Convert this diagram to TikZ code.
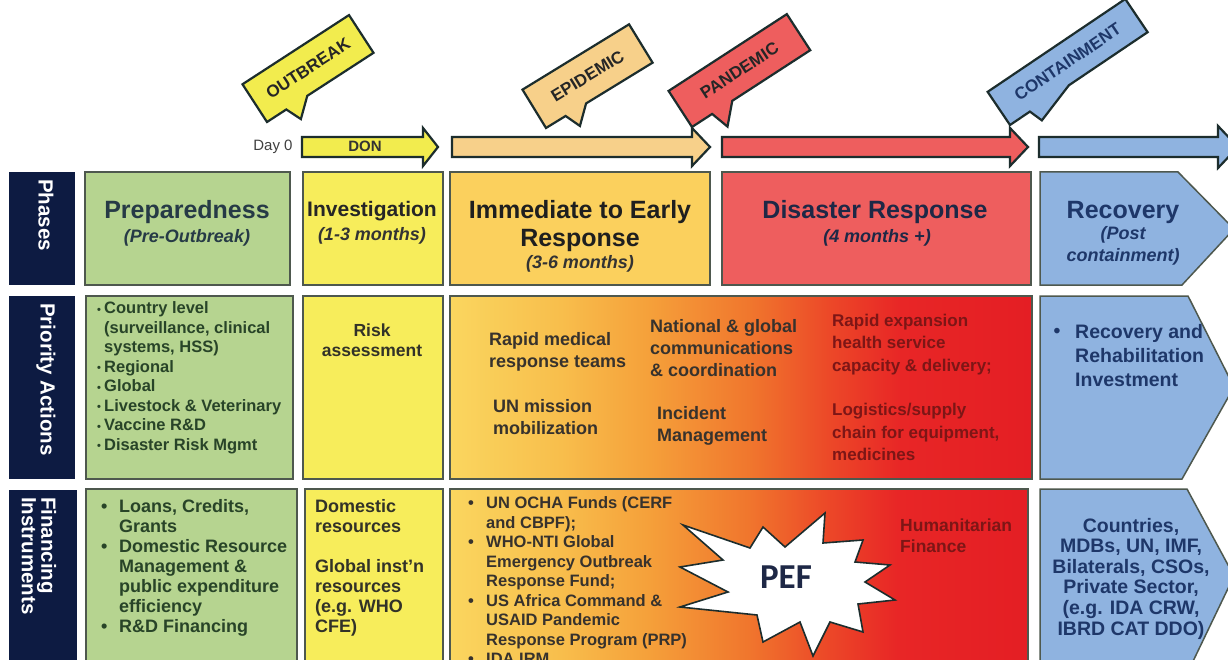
\documentclass[tikz,border=0pt]{standalone}
\usepackage{fontspec}
\setmainfont{Liberation Sans}
\newfontfamily\peffont{Carlito}
\definecolor{navy}{RGB}{13,27,66}
\definecolor{cgreen}{RGB}{182,212,144}
\definecolor{cyellow}{RGB}{247,237,91}
\definecolor{corange}{RGB}{251,208,93}
\definecolor{cred}{RGB}{238,94,94}
\definecolor{cblue}{RGB}{143,179,224}
\definecolor{cpeach}{RGB}{247,208,138}
\definecolor{ctagy}{RGB}{242,236,78}
\definecolor{boxline}{RGB}{78,88,78}
\definecolor{arrline}{RGB}{28,45,45}
\definecolor{tprepc}{RGB}{38,58,70}
\definecolor{tgreen}{RGB}{40,68,40}
\definecolor{tyel}{RGB}{50,50,40}
\definecolor{torange}{RGB}{55,50,45}
\definecolor{tred}{RGB}{125,22,22}
\definecolor{tblue}{RGB}{30,55,105}
\definecolor{tdis}{RGB}{30,40,70}
\definecolor{ga}{RGB}{250,214,95}
\definecolor{gb}{RGB}{248,190,76}
\definecolor{gc}{RGB}{245,160,58}
\definecolor{gd}{RGB}{240,118,45}
\definecolor{ge}{RGB}{236,72,40}
\definecolor{gf}{RGB}{232,38,38}
\definecolor{gg}{RGB}{228,30,36}
\pgfdeclarehorizontalshading{prioshade}{100bp}{color(0bp)=(ga); color(25bp)=(ga); color(34.5bp)=(gb); color(42.2bp)=(gc); color(50.8bp)=(gd); color(57.6bp)=(ge); color(63.7bp)=(gf); color(75bp)=(gg); color(100bp)=(gg)}
\newcommand\mybulA{\makebox[7pt][l]{\raisebox{0.5pt}{\fontsize{11}{11}\selectfont •}}}
\newcommand\mybulB{\makebox[18pt][l]{•}}
\tikzset{
  box/.style={draw=boxline, line width=1.5pt},
  arr/.style={draw=arrline, line width=2.2pt, line join=miter},
  tagline/.style={draw=arrline, line width=2.2pt, line join=miter},
  navytext/.style={text=white, font=\bfseries\fontsize{20.5}{18}\selectfont, rotate=-90, inner sep=0pt},
  ttl/.style={font=\bfseries\fontsize{25}{28}\selectfont, inner sep=0pt, align=center},
  sub/.style={font=\bfseries\itshape\fontsize{18}{22}\selectfont, inner sep=0pt, align=center},
  tagtext/.style={font=\bfseries\fontsize{17}{17}\selectfont, inner sep=0pt},
  body/.style 2 args={font=\bfseries\fontsize{#1}{#2}\selectfont, inner sep=0pt},
}
\begin{document}
\begin{tikzpicture}[x=1pt,y=-1pt]
\useasboundingbox (0,0) rectangle (1228,660);
\clip (0,0) rectangle (1228,660);
\fill[white] (0,0) rectangle (1228,660);

% navy row labels
\fill[navy] (9,172) rectangle (75,285);
\fill[navy] (9,296) rectangle (75,479);
\fill[navy] (9,490) rectangle (77,680);
\node[navytext, anchor=west] (lphases) at (46,179) {Phases};
\node[navytext, anchor=west] (lprio) at (46,303) {Priority Actions};
\node[navytext, anchor=west, align=left] (lfin) at (39,497) {Financing\\Instruments};

% phases row
\path[box, fill=cgreen] (85,172) rectangle (290,285);
\path[box, fill=cyellow] (303,172) rectangle (443,285);
\path[box, fill=corange] (450,172) rectangle (710,285);
\path[box, fill=cred] (722,172) rectangle (1031,285);
\path[box, fill=cblue] (1040,172) -- (1178,172) -- (1234,229) -- (1182,285) -- (1040,285) -- cycle;

\node[ttl, text=tprepc] (tprep) at (187,212) {Preparedness};
\node[sub, text=tprepc] (tprep2) at (187,238) {(Pre-Outbreak)};
\node[ttl, text=black!85, font=\bfseries\fontsize{21}{24}\selectfont] (tinv) at (372,211) {Investigation};
\node[sub, text=black!80] (tinv2) at (372,236) {(1-3 months)};
\node[ttl, text=black!88] (timm) at (580,226) {Immediate to Early\\Response};
\node[sub, text=black!80] (timm2) at (580,264) {(3-6 months)};
\node[ttl, text=tdis] (tdis) at (875,212) {Disaster Response};
\node[sub, text=tdis] (tdis2) at (877,238) {(4 months +)};
\node[ttl, text=tblue] (trec) at (1123,212) {Recovery};
\node[sub, text=tblue] (trec2) at (1123,246) {(Post\\containment)};

% priority row
\path[box, fill=cgreen] (86,296) rectangle (293,479);
\path[box, fill=cyellow] (303,296) rectangle (443,479);
\path[box, shading=prioshade] (450,296) rectangle (1032,479);
\path[box, fill=cblue] (1040,296) -- (1188,296) -- (1234,387) -- (1182,479) -- (1040,479) -- cycle;

\node[body={16.5}{19.5}, text=tgreen, anchor=west, align=left] (pgreen) at (97,378)
 {\mybulA Country level\\\hspace*{7pt}(surveillance, clinical\\\hspace*{7pt}systems, HSS)\\\mybulA Regional\\\mybulA Global\\\mybulA Livestock \& Veterinary\\\mybulA Vaccine R\&D\\\mybulA Disaster Risk Mgmt};
\node[body={17.5}{20}, text=tyel, align=center] (prisk) at (372,340) {Risk\\assessment};
\node[body={18}{22}, text=torange, anchor=west, align=left] (pr1) at (489,351.5) {Rapid medical\\response teams};
\node[body={18}{22}, text=torange, anchor=west, align=left] (pr2) at (650,348.5) {National \& global\\communications\\\& coordination};
\node[body={18}{22}, text=torange, anchor=west, align=left] (pr3) at (493,417.5) {UN mission\\mobilization};
\node[body={18}{22}, text=torange, anchor=west, align=left] (pr4) at (657,426) {Incident\\Management};
\node[body={17}{22.5}, text=tred, anchor=west, align=left] (pr5) at (832,344.5) {Rapid expansion\\health service\\capacity \& delivery;};
\node[body={17}{22.5}, text=tred, anchor=west, align=left] (pr6) at (832,432) {Logistics/supply\\chain for equipment,\\medicines};
\node[body={19.5}{24}, text=tblue] (pbul) at (1057,333) {•};
\node[body={19.5}{24}, text=tblue, anchor=west, align=left] (prec) at (1075,356) {Recovery and\\Rehabilitation\\Investment};

% financing row
\path[box, fill=cgreen] (86,489) rectangle (297,690);
\path[box, fill=cyellow] (305,489) rectangle (443,690);
\path[box, shading=prioshade] (450,489) rectangle (1028,690);
\path[box, fill=cblue] (1040,489) -- (1187,489) -- (1234,576) -- (1184,680) -- (1040,680) -- cycle;

\node[body={18}{20}, text=tgreen, anchor=west, align=left] (fgreen) at (101,568)
 {\mybulB Loans, Credits,\\\hspace*{18pt}Grants\\\mybulB Domestic Resource\\\hspace*{18pt}Management \&\\\hspace*{18pt}public expenditure\\\hspace*{18pt}efficiency\\\mybulB R\&D Financing};
\node[body={18}{20}, text=tyel, anchor=west, align=left] (fyel) at (315,568)
 {Domestic\\resources\\[20pt]Global inst'n\\resources\\(e.g. WHO\\CFE)};
\node[body={16.5}{19.5}, text=torange, anchor=west, align=left] (forange) at (468,581)
 {\mybulB UN OCHA Funds (CERF\\\hspace*{18pt}and CBPF);\\\mybulB WHO-NTI Global\\\hspace*{18pt}Emergency Outbreak\\\hspace*{18pt}Response Fund;\\\mybulB US Africa Command \&\\\hspace*{18pt}USAID Pandemic\\\hspace*{18pt}Response Program (PRP)\\\mybulB IDA IRM};
\node[body={17.5}{21}, text=tred, anchor=west, align=left] (fhum) at (900,535.5) {Humanitarian\\Finance};
\node[body={19.5}{20.6}, text=tblue, align=center] (fblue) at (1131,578.5)
 {Countries,\\MDBs, UN, IMF,\\Bilaterals, CSOs,\\Private Sector,\\(e.g. IDA CRW,\\IBRD CAT DDO)};

% PEF explosion
\draw[draw=arrline, line width=1.6pt, fill=white, line join=miter]
 (683,525) -- (750,548) -- (763,527) -- (785,547) -- (825,513) -- (823,543) -- (863,540)
 -- (855,562) -- (890,565) -- (865,582) -- (895,600) -- (858,604) -- (863,632) -- (830,622)
 -- (813,656) -- (800,622) -- (763,642) -- (757,615) -- (680,607) -- (728,592) -- (680,567)
 -- (723,560) -- cycle;
\node[font=\peffont\bfseries\fontsize{35}{35}\selectfont, text=tdis, inner sep=0pt] (pef) at (786,577) {PEF};

% timeline arrows
\node[font=\fontsize{15}{15}\selectfont, text=black!75, inner sep=0pt] (day0) at (273,147) {Day 0};
\draw[arr, fill=ctagy] (302,137) -- (423,137) -- (423,128) -- (438,147) -- (423,166) -- (423,157) -- (302,157) -- cycle;
\node[tagtext, text=black!80, font=\bfseries\fontsize{15}{15}\selectfont] (don) at (365,146) {DON};
\draw[arr, fill=cpeach] (452,137) -- (692,137) -- (692,128) -- (710,147) -- (692,166) -- (692,157) -- (452,157) -- cycle;
\draw[arr, fill=cred] (722,137) -- (1010,137) -- (1010,128) -- (1028,147) -- (1010,166) -- (1010,157) -- (722,157) -- cycle;
\draw[arr, fill=cblue] (1039,137) -- (1218,137) -- (1218,126) -- (1238,147) -- (1218,168) -- (1218,157) -- (1039,157) -- cycle;

% tags
\begin{scope}[shift={(267,122)}, rotate=33]
\draw[tagline, fill=ctagy] (0,0) -- (23,0) -- (30,16) -- (48,0) -- (127,0) -- (127,-45) -- (0,-45) -- cycle;
\node[tagtext, text=black!85, rotate=33] (toutbreak) at (63.5,-22.5) {OUTBREAK};
\end{scope}
\begin{scope}[shift={(546,128)}, rotate=31.5]
\draw[tagline, fill=cpeach] (0,0) -- (23,0) -- (30,16) -- (47,0) -- (125,0) -- (125,-45) -- (0,-45) -- cycle;
\node[tagtext, text=black!85, rotate=31.5] (tepidemic) at (62.5,-22.5) {EPIDEMIC};
\end{scope}
\begin{scope}[shift={(692,127)}, rotate=33]
\draw[tagline, fill=cred] (0,0) -- (24,0) -- (30,19) -- (48,0) -- (141,0) -- (141,-43) -- (0,-43) -- cycle;
\node[tagtext, text=black!85, rotate=33] (tpandemic) at (70.5,-21.5) {PANDEMIC};
\end{scope}
\begin{scope}[shift={(1010,125)}, rotate=34]
\draw[tagline, fill=cblue] (0,0) -- (24,0) -- (29,14) -- (71,0) -- (166,0) -- (166,-40) -- (0,-40) -- cycle;
\node[tagtext, text=tblue, rotate=34] (tcontain) at (83,-20) {CONTAINMENT};
\end{scope}
\end{tikzpicture}
\end{document}
